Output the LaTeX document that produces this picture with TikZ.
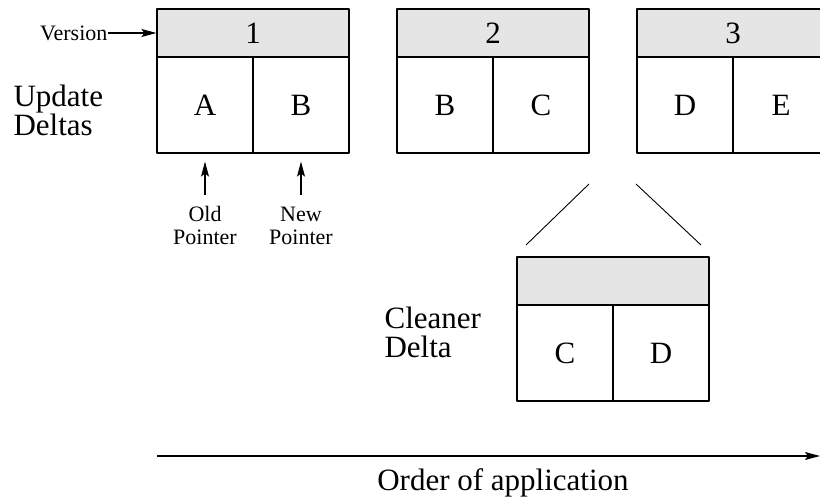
\documentclass[tikz,border=0pt]{standalone}
\usepackage{fontspec}
\setmainfont{Liberation Serif}
\usetikzlibrary{arrows.meta}
\usetikzlibrary{calc}
\definecolor{hdrgray}{RGB}{229,229,229}
\tikzset{bigtxt/.style={font=\fontsize{31}{29}\selectfont}}
\tikzset{smtxt/.style={font=\fontsize{22}{23}\selectfont}}
\tikzset{hdr/.style={draw,fill=hdrgray,minimum width=192pt,minimum height=48pt,inner sep=0pt,bigtxt}}
\tikzset{cell/.style={draw,minimum width=96pt,minimum height=96pt,inner sep=0pt,bigtxt}}
\tikzset{ptr/.style={-{Stealth[length=15pt,width=8pt,inset=3pt]}}}

\begin{document}
\begin{tikzpicture}[x=1pt,y=-1pt,line width=1.2pt,line join=round]
            \useasboundingbox (0,0) rectangle (820,497);
            \clip (0,0) rectangle (820,497);
            % update deltas
            \foreach \n/\x/\p/\q in {1/253/A/B,2/493/B/C,3/733/D/E}{
              \node[hdr] (hdr\n) at (\x,33) {\n};
              \node[cell] (L\n) at (\x-48,105) {\p};
              \node[cell] (R\n) at (\x+48,105) {\q};
            }
            \node[smtxt,anchor=east,inner sep=0pt] (ver) at (108,33) {Version};
            \draw[ptr] (ver.east) -- (hdr1.west);
            \node[bigtxt,align=left,anchor=west,inner sep=0pt] (upd) at (13,110) {Update\\Deltas};
            \node[smtxt,align=center,anchor=north,inner sep=0pt] (oldp) at (205,206) {Old\\Pointer};
            \node[smtxt,align=center,anchor=north,inner sep=0pt] (newp) at (301,206) {New\\Pointer};
            \draw[ptr,shorten <=11pt,shorten >=8pt] (oldp.north) -- (oldp.north |- L1.south);
            \draw[ptr,shorten <=11pt,shorten >=8pt] (newp.north) -- (newp.north |- R1.south);
            % cleaner delta
            \node[hdr] (hdrc) at (613,281) {};
            \node[cell] (Lc) at (565,353) {C};
            \node[cell] (Rc) at (661,353) {D};
            \node[bigtxt,align=left,anchor=west,inner sep=0pt] (cln) at (384,332) {Cleaner\\Delta};
            \coordinate (zl1) at (589,184); \coordinate (zl2) at (526,245);
            \coordinate (zr1) at (636,184); \coordinate (zr2) at (701,245);
            \draw[line width=.9pt] (zl1) -- (zl2);
            \draw[line width=.9pt] (zr1) -- (zr2);
            % order
            \coordinate (ordL) at (157,456); \coordinate (ordR) at (820,456);
            \draw[ptr] (ordL) -- (ordR);
            \node[bigtxt,anchor=base,inner sep=0pt] (ord) at (503,490) {Order of application};
          \end{tikzpicture}
\end{document}
